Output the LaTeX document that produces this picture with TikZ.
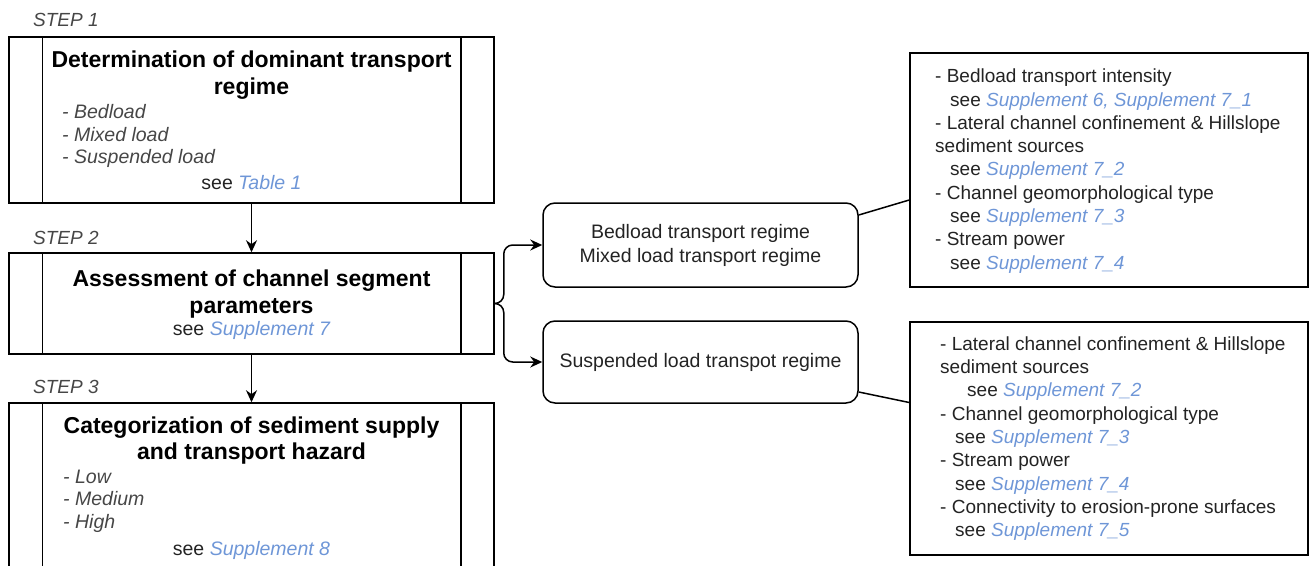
\documentclass[tikz,border=0pt]{standalone}
\usepackage{fontspec}
\setmainfont{Liberation Sans}
\usetikzlibrary{arrows.meta,calc}
\definecolor{linkblue}{RGB}{110,150,215}
\definecolor{txt}{RGB}{35,35,35}
\definecolor{itgray}{RGB}{70,70,70}
\newcommand{\lnk}[1]{\textcolor{linkblue}{\itshape #1}}
\begin{document}
\begin{tikzpicture}[x=1pt,y=-1pt,
 stepbox/.style={draw=black, line width=1.5pt, rectangle, inner sep=0pt, minimum width=485pt},
 regbox/.style={draw=black, line width=1.5pt, rounded corners=12pt, minimum width=315pt, align=center, font=\fontsize{19.5}{24}\selectfont, text=txt},
 listbox/.style={draw=black, line width=1.5pt, rectangle, inner sep=0pt, minimum width=398pt},
 ttl/.style={font=\fontsize{23}{26.5}\selectfont\bfseries, align=center, text=black, inner sep=0pt},
 body/.style={font=\fontsize{19.5}{22.5}\selectfont, text=txt, inner sep=0pt, align=left},
 lst/.style={font=\fontsize{19.5}{22.5}\selectfont\itshape, text=itgray, inner sep=0pt, align=left},
 rtxt/.style={font=\fontsize{19}{23.3}\selectfont, text=txt, inner sep=0pt, align=left},
 steplabel/.style={font=\fontsize{19}{22}\selectfont\itshape, text=itgray, inner sep=0pt, anchor=west},
 arr/.style={-{Stealth[length=12pt,width=11pt]}, line width=1.5pt},
 conn/.style={line width=1.5pt}]
\useasboundingbox (0,0) rectangle (1311,565);

% step labels
\node[steplabel] (l1) at (33,20) {STEP 1};
\node[steplabel] (l2) at (33,238) {STEP 2};
\node[steplabel] (l3) at (33,387) {STEP 3};

% step boxes
\node[stepbox, minimum height=166pt] (s1) at (251.5,120) {};
\node[stepbox, minimum height=101pt] (s2) at (251.5,303.5) {};
\node[stepbox, minimum height=167pt] (s3) at (251.5,486.5) {};
\foreach \s in {s1,s2,s3}{
  \draw[line width=1.5pt] ([xshift=34pt]\s.north west) -- ([xshift=34pt]\s.south west);
  \draw[line width=1.5pt] ([xshift=-34pt]\s.north east) -- ([xshift=-34pt]\s.south east);
}

% step 1 text
\node[ttl] (t1) at (251.5,75) {Determination of dominant transport\\regime};
\node[lst, anchor=west] (i1) at (62,136) {- Bedload\\- Mixed load\\- Suspended load};
\node[body] (see1) at (251.5,183) {see \lnk{Table 1}};

% step 2 text
\node[ttl] (t2) at (251.5,294) {Assessment of channel segment\\parameters};
\node[body] (see2) at (251.5,330) {see \lnk{Supplement 7}};

% step 3 text
\node[ttl] (t3) at (251.5,440.5) {Categorization of sediment supply\\and transport hazard};
\node[lst, anchor=west] (i3) at (63,501) {- Low\\- Medium\\- High};
\node[body] (see3) at (251.5,550) {see \lnk{Supplement 8}};

% vertical arrows
\draw[arr] (s1.south) -- (s2.north);
\draw[arr] (s2.south) -- (s3.north);

% regime boxes
\node[regbox, minimum height=84pt] (b1) at (700.5,245) {Bedload transport regime\\Mixed load transport regime};
\node[regbox, minimum height=82pt] (b2) at (700.5,362) {Suspended load transpot regime};

\draw[arr, rounded corners=9pt] (s2.east) -- ++(9,0) |- (b1.west);
\draw[arr, rounded corners=9pt] (s2.east) -- ++(9,0) |- (b2.west);

% parameter boxes
\node[listbox, minimum height=234pt] (r1) at (1109,170) {};
\node[listbox, minimum height=233pt] (r2) at (1109,438.5) {};

\node[rtxt, anchor=west] (r1t) at (935,171) {- Bedload transport intensity\\
\hspace*{15pt}see \lnk{Supplement 6, Supplement 7\_1}\\
- Lateral channel confinement \& Hillslope\\
sediment sources\\
\hspace*{15pt}see \lnk{Supplement 7\_2}\\
- Channel geomorphological type\\
\hspace*{15pt}see \lnk{Supplement 7\_3}\\
- Stream power\\
\hspace*{15pt}see \lnk{Supplement 7\_4}};

\node[rtxt, anchor=west] (r2t) at (940,438.5) {- Lateral channel confinement \& Hillslope\\
sediment sources\\
\hspace*{27pt}see \lnk{Supplement 7\_2}\\
- Channel geomorphological type\\
\hspace*{15pt}see \lnk{Supplement 7\_3}\\
- Stream power\\
\hspace*{15pt}see \lnk{Supplement 7\_4}\\
- Connectivity to erosion-prone surfaces\\
\hspace*{15pt}see \lnk{Supplement 7\_5}};

\draw[conn] ([yshift=30pt]b1.east) -- ([yshift=-30pt]r1.west);
\draw[conn] ([yshift=-30pt]b2.east) -- ([yshift=36pt]r2.west);
\end{tikzpicture}
\end{document}
